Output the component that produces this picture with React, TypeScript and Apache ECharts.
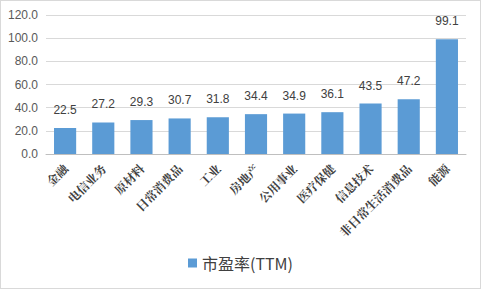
import React, { useEffect, useRef } from "react";
import * as echarts from "echarts";

const categories = ["金融", "电信业务", "原材料", "日常消费品", "工业", "房地产", "公用事业", "医疗保健", "信息技术", "非日常生活消费品", "能源"];
const peValues = [22.5, 27.2, 29.3, 30.7, 31.8, 34.4, 34.9, 36.1, 43.5, 47.2, 99.1];
const seriesName = "市盈率(TTM)";

export default function App() {
  const ref = useRef<HTMLDivElement>(null);
  useEffect(() => {
    document.body.style.margin = "0";
    const chart = echarts.init(ref.current!, null, { renderer: "svg" });
    chart.setOption({
      animation: false,
      backgroundColor: "#fff",
      grid: { left: 45, right: 14, top: 14, bottom: 134, containLabel: false },
      legend: {
        data: [seriesName],
        bottom: 12,
        left: "center",
        icon: "rect",
        itemWidth: 9,
        itemHeight: 9,
        itemGap: 6,
        textStyle: { fontSize: 16, color: "#404040", fontFamily: "Noto Sans CJK SC" },
      },
      xAxis: {
        type: "category",
        data: categories,
        axisLine: { lineStyle: { color: "#bfbfbf" } },
        axisTick: { show: false },
        axisLabel: {
          rotate: 45,
          interval: 0,
          fontSize: 12,
          fontWeight: "bold",
          color: "#404040",
          fontFamily: "Noto Serif CJK SC, Noto Sans CJK SC, serif",
          margin: 12,
        },
      },
      yAxis: {
        type: "value",
        min: 0,
        max: 120,
        interval: 20,
        axisLine: { show: false },
        axisTick: { show: false },
        splitLine: { lineStyle: { color: "#d9d9d9" } },
        axisLabel: {
          formatter: (v: number) => v.toFixed(1),
          fontSize: 12,
          color: "#595959",
          fontFamily: "Liberation Sans, Arial, sans-serif",
          margin: 8,
        },
      },
      series: [
        {
          name: seriesName,
          type: "bar",
          data: peValues,
          barWidth: "58%",
          itemStyle: { color: "#5B9BD5" },
          label: {
            show: true,
            position: "top",
            distance: 12,
            fontSize: 12,
            color: "#404040",
            fontFamily: "Liberation Sans, Arial, sans-serif",
            formatter: (p: any) => p.value.toFixed(1),
          },
        },
      ],
    });
    return () => chart.dispose();
  }, []);
  return (
    <div
      ref={ref}
      style={{ position: "absolute", left: 0, top: 0, width: 481, height: 289, boxSizing: "border-box", border: "1px solid #d9d9d9" }}
    />
  );
}
